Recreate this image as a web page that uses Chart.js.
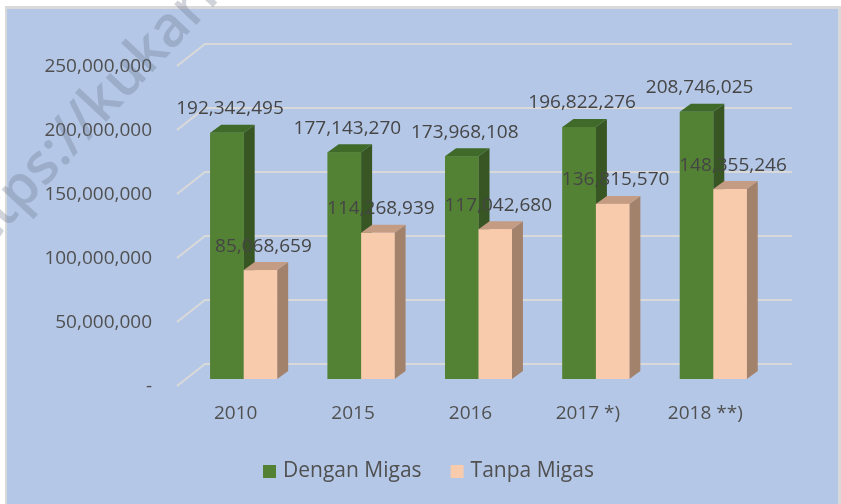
<!DOCTYPE html>
<html>
<head>
<meta charset="utf-8">
<script src="https://cdn.jsdelivr.net/npm/chart.js@4/dist/chart.umd.min.js"></script>
<style>
  html, body { margin: 0; padding: 0; background: #fff; }
</style>
</head>
<body>
<canvas id="PdrbChart" width="841" height="504"></canvas>
<script>
var years = ['2010', '2015', '2016', '2017 *)', '2018 **)'];
var denganMigas = [192342495, 177143270, 173968108, 196822276, 208746025];
var tanpaMigas = [85068659, 114268939, 117042680, 136815570, 148355246];
var seriesNames = ['Dengan Migas', 'Tanpa Migas'];
var yMax = 250000000;
var yStep = 50000000;

var faces = [
    { front: '#548235', side: '#375623', top: '#3f6a29' },
    { front: '#f8cbad', side: '#a3826c', top: '#c49c83' }
];
var textColor = '#505050';

function fmt(v) {
    return v.toLocaleString('en-US');
}

// background + frame
var frame = {
    id: 'frame',
    beforeDraw: function (chart) {
        var ctx = chart.ctx;
        ctx.save();
        ctx.fillStyle = '#ffffff';
        ctx.fillRect(0, 0, chart.width, chart.height);
        ctx.fillStyle = '#d9d9d9';
        ctx.fillRect(5, 6, 836, 498);
        ctx.fillStyle = '#b4c7e7';
        ctx.fillRect(7, 9, 831, 495);
        ctx.restore();
    }
};

// 3d-ish walls, bars and value labels
var bar3d = {
    id: 'bar3d',
    beforeDatasetsDraw: function (chart) {
        var ctx = chart.ctx, y = chart.scales.y, a = chart.chartArea;
        ctx.save();
        ctx.strokeStyle = '#d9d9d9';
        ctx.lineWidth = 2;
        y.ticks.forEach(function (t) {
            var py = y.getPixelForValue(t.value);
            ctx.beginPath();
            ctx.moveTo(a.left - 8, py + 7);
            ctx.lineTo(a.left + 20, py - 15);
            ctx.lineTo(a.right + 20, py - 15);
            ctx.stroke();
        });
        ctx.restore();
    },
    afterDatasetsDraw: function (chart) {
        var ctx = chart.ctx;
        var dx = 11, dy = -8;
        ctx.save();
        for (var i = 0; i < years.length; i++) {
            for (var d = 0; d < chart.data.datasets.length; d++) {
                var bar = chart.getDatasetMeta(d).data[i];
                var l = bar.x - bar.width / 2, r = bar.x + bar.width / 2, t = bar.y, b = bar.base;
                ctx.fillStyle = faces[d].side;
                ctx.beginPath();
                ctx.moveTo(r, t); ctx.lineTo(r + dx, t + dy);
                ctx.lineTo(r + dx, b + dy); ctx.lineTo(r, b);
                ctx.closePath(); ctx.fill();
                ctx.fillStyle = faces[d].top;
                ctx.beginPath();
                ctx.moveTo(l, t); ctx.lineTo(r, t);
                ctx.lineTo(r + dx, t + dy); ctx.lineTo(l + dx, t + dy);
                ctx.closePath(); ctx.fill();
                ctx.fillStyle = faces[d].front;
                ctx.fillRect(l, t, r - l, b - t);
            }
        }
        ctx.font = '19px "Open Sans"';
        ctx.fillStyle = '#454545';
        ctx.textAlign = 'center';
        ctx.textBaseline = 'middle';
        chart.data.datasets.forEach(function (ds, d) {
            chart.getDatasetMeta(d).data.forEach(function (bar, i) {
                ctx.fillText(fmt(ds.data[i]), bar.x + 3, bar.y - 24);
            });
        });
        ctx.restore();
    }
};

// legend row at the bottom
var legendRow = {
    id: 'legendRow',
    afterDraw: function (chart) {
        var ctx = chart.ctx;
        ctx.save();
        ctx.font = '21px "Open Sans"';
        ctx.textBaseline = 'middle';
        ctx.textAlign = 'left';
        var x = 263, y = 471;
        chart.data.datasets.forEach(function (ds, d) {
            ctx.fillStyle = faces[d].front;
            ctx.fillRect(x, y - 6, 13, 13);
            ctx.fillStyle = textColor;
            ctx.fillText(ds.label, x + 20, y);
            x += 20 + ctx.measureText(ds.label).width + 29;
        });
        ctx.restore();
    }
};

// watermark of the source image
var watermark = {
    id: 'watermark',
    afterDraw: function (chart) {
        var ctx = chart.ctx;
        ctx.save();
        ctx.translate(-34, 272);
        ctx.rotate(-47 * Math.PI / 180);
        ctx.font = '600 56px "Open Sans"';
        ctx.fillStyle = 'rgba(100, 112, 132, 0.3)';
        ctx.textBaseline = 'alphabetic';
        ctx.fillText('https://kukarkab.bps.go.id', 0, 0);
        ctx.restore();
    }
};

new Chart('PdrbChart', {
    type: 'bar',
    data: {
        labels: years,
        datasets: [{
            label: seriesNames[0],
            data: denganMigas,
            backgroundColor: faces[0].front
        }, {
            label: seriesNames[1],
            data: tanpaMigas,
            backgroundColor: faces[1].front
        }]
    },
    options: {
        responsive: false,
        animation: false,
        layout: { padding: { top: 59, right: 69, left: 0, bottom: 0 } },
        datasets: { bar: { categoryPercentage: 0.57, barPercentage: 1.0 } },
        plugins: {
            legend: { display: false },
            tooltip: { enabled: false }
        },
        scales: {
            x: {
                grid: { display: false, drawTicks: false },
                border: { display: false },
                ticks: {
                    color: textColor,
                    font: { family: 'Open Sans', size: 19 },
                    padding: 23,
                    labelOffset: -8,
                    maxRotation: 0
                },
                afterFit: function (scale) { scale.height = 125; }
            },
            y: {
                min: 0,
                max: yMax,
                grid: { display: false, drawTicks: false },
                border: { display: false },
                ticks: {
                    stepSize: yStep,
                    color: textColor,
                    font: { family: 'Open Sans', size: 19 },
                    padding: 33,
                    labelOffset: 8,
                    callback: function (v) { return v === 0 ? '-' : fmt(v); }
                },
                afterFit: function (scale) { scale.width = 185; }
            }
        }
    },
    plugins: [frame, bar3d, legendRow, watermark]
});
</script>
</body>
</html>
